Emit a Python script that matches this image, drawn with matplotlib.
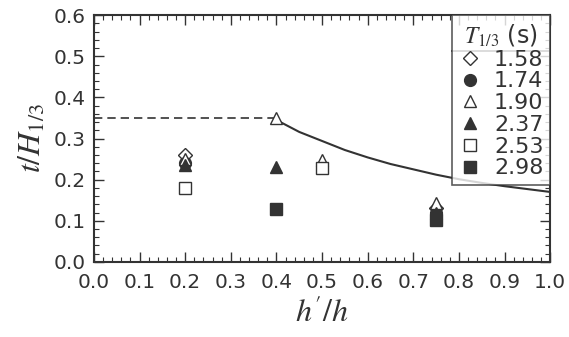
import matplotlib
matplotlib.use('Agg')
import matplotlib.pyplot as plt
from matplotlib.ticker import MultipleLocator

plt.rcParams['mathtext.fontset'] = 'stix'
plt.rcParams['font.family'] = ['DejaVu Sans']

# ========================================
# Data
# ========================================
periods = ['1.58', '1.74', '1.90', '2.37', '2.53', '2.98']
markers = ['D', 'o', '^', '^', 's', 's']
filled = [False, True, False, True, False, True]

x_158 = [0.2, 0.75]
y_158 = [0.26, 0.13]
x_174 = [0.2, 0.75]
y_174 = [0.24, 0.12]
x_190 = [0.2, 0.4, 0.5, 0.75]
y_190 = [0.25, 0.35, 0.248, 0.143]
x_237 = [0.2, 0.4, 0.75]
y_237 = [0.235, 0.231, 0.12]
x_253 = [0.2, 0.5]
y_253 = [0.18, 0.228]
x_298 = [0.4, 0.75]
y_298 = [0.129, 0.102]

series_x = [x_158, x_174, x_190, x_237, x_253, x_298]
series_y = [y_158, y_174, y_190, y_237, y_253, y_298]

# limit line: dashed part and solid curve
dash_x = [0.0, 0.4]
dash_y = [0.35, 0.35]
curve_x = [0.4, 0.45, 0.5, 0.55, 0.6, 0.65, 0.7, 0.75, 0.8, 0.85, 0.9, 0.95, 1.0]
curve_y = [0.345, 0.316, 0.294, 0.272, 0.254, 0.238, 0.225, 0.212, 0.201, 0.192, 0.184, 0.177, 0.17]

ink = '#333333'

fig = plt.figure(figsize=(5.69, 3.37), dpi=100)
ax = fig.add_axes([0.165, 0.223, 0.802, 0.732])

ax.plot(dash_x, dash_y, '--', color=ink, lw=1.2, dashes=(5, 3))
ax.plot(curve_x, curve_y, '-', color=ink, lw=1.5)

handles = []
for lab, m, f, xs, ys in zip(periods, markers, filled, series_x, series_y):
    ms = 7.5 if m == 'D' else 8.5
    h, = ax.plot(xs, ys, linestyle='none', marker=m, markersize=ms,
                 markerfacecolor=ink if f else 'white', markeredgecolor=ink,
                 markeredgewidth=1.0, label=lab)
    handles.append(h)

ax.set_xlim(0, 1.0)
ax.set_ylim(0, 0.6)
ax.xaxis.set_major_locator(MultipleLocator(0.1))
ax.xaxis.set_minor_locator(MultipleLocator(0.02))
ax.yaxis.set_major_locator(MultipleLocator(0.1))
ax.yaxis.set_minor_locator(MultipleLocator(0.02))
ax.tick_params(which='both', direction='in', top=True, right=True, color=ink)
ax.tick_params(which='major', length=7, width=1.0)
ax.tick_params(which='minor', length=3.5, width=0.8)
ax.tick_params(axis='both', labelsize=14.5, labelcolor=ink)
ax.tick_params(axis='x', pad=8)
ax.tick_params(axis='y', pad=6)
ax.set_xticklabels(['%.1f' % v for v in ax.get_xticks()])
ax.set_yticklabels(['%.1f' % v for v in ax.get_yticks()])
for s in ax.spines.values():
    s.set_linewidth(1.5)
    s.set_color(ink)

ax.set_xlabel(r"$h'/h$", fontsize=23, color=ink, labelpad=4)
ax.set_ylabel(r"$t/H_{1/3}$", fontsize=23, color=ink, labelpad=4)

leg = ax.legend(handles=handles, loc='upper right', borderaxespad=0.0,
                title=r"$T_{1/3}$ (s)", title_fontsize=17, fontsize=16,
                frameon=True, fancybox=False, edgecolor=ink,
                handletextpad=0.6, handlelength=1.0, labelspacing=0.08,
                borderpad=0.3)
leg.get_frame().set_linewidth(1.2)
for t in leg.get_texts():
    t.set_color(ink)
leg.get_title().set_color(ink)

# separator under the legend title
fig.canvas.draw()
bb = leg.get_window_extent().transformed(ax.transAxes.inverted())
tb = leg.get_title().get_window_extent().transformed(ax.transAxes.inverted())
ax.plot([bb.x0, bb.x1], [tb.y0 - 0.012, tb.y0 - 0.012], color=ink, lw=1.2,
        transform=ax.transAxes, clip_on=False)

plt.savefig('out.png', dpi=100)
